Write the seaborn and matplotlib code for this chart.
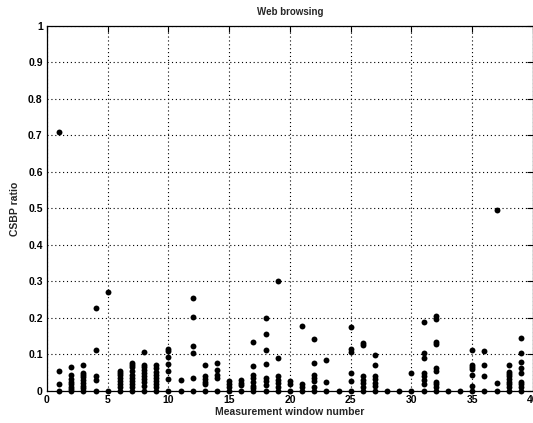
import numpy as np
import pandas as pd
import matplotlib
matplotlib.use('Agg')
import matplotlib.pyplot as plt
import seaborn as sns

windows = list(range(1, 40))
ratios = [
    [0.71, 0.056, 0.018, 0.0],                                            # 1
    [0.065, 0.045, 0.032, 0.025, 0.018, 0.012, 0.006, 0.0],               # 2
    [0.072, 0.05, 0.045, 0.038, 0.03, 0.022, 0.015, 0.008, 0.0],          # 3
    [0.228, 0.113, 0.04, 0.03, 0.0],                                      # 4
    [0.272, 0.0],                                                         # 5
    [0.055, 0.05, 0.043, 0.035, 0.028, 0.02, 0.012, 0.0],                 # 6
    [0.078, 0.072, 0.065, 0.055, 0.045, 0.035, 0.028, 0.02, 0.01, 0.0],   # 7
    [0.106, 0.072, 0.065, 0.058, 0.05, 0.04, 0.032, 0.025, 0.015, 0.0],   # 8
    [0.07, 0.062, 0.052, 0.045, 0.035, 0.028, 0.02, 0.01, 0.0],           # 9
    [0.115, 0.11, 0.092, 0.074, 0.055, 0.033, 0.0],                       # 10
    [0.03, 0.0],                                                          # 11
    [0.254, 0.204, 0.123, 0.103, 0.035, 0.0],                             # 12
    [0.071, 0.041, 0.032, 0.025, 0.02, 0.0],                              # 13
    [0.078, 0.057, 0.045, 0.035, 0.0],                                    # 14
    [0.027, 0.02, 0.012, 0.0],                                            # 15
    [0.03, 0.022, 0.016, 0.0],                                            # 16
    [0.135, 0.068, 0.045, 0.035, 0.025, 0.015, 0.008, 0.0],               # 17
    [0.2, 0.156, 0.112, 0.073, 0.035, 0.026, 0.016, 0.0],                 # 18
    [0.3, 0.09, 0.04, 0.03, 0.022, 0.012, 0.0],                           # 19
    [0.027, 0.02, 0.0],                                                   # 20
    [0.178, 0.02, 0.012, 0.0],                                            # 21
    [0.142, 0.076, 0.045, 0.035, 0.027, 0.012, 0.0],                      # 22
    [0.085, 0.025, 0.0],                                                  # 23
    [0.0],                                                                # 24
    [0.174, 0.114, 0.108, 0.049, 0.028, 0.0],                             # 25
    [0.132, 0.125, 0.04, 0.03, 0.022, 0.012, 0.0],                        # 26
    [0.098, 0.071, 0.04, 0.032, 0.022, 0.014, 0.0],                       # 27
    [0.0],                                                                # 28
    [0.0],                                                                # 29
    [0.05, 0.0],                                                          # 30
    [0.19, 0.105, 0.09, 0.05, 0.04, 0.03, 0.02, 0.0],                     # 31
    [0.205, 0.197, 0.135, 0.128, 0.062, 0.055, 0.025, 0.018, 0.01, 0.0],  # 32
    [0.0],                                                                # 33
    [0.0],                                                                # 34
    [0.112, 0.072, 0.066, 0.06, 0.044, 0.014, 0.0],                       # 35
    [0.11, 0.071, 0.04, 0.0],                                             # 36
    [0.495, 0.023, 0.0],                                                  # 37
    [0.072, 0.053, 0.046, 0.04, 0.032, 0.025, 0.018, 0.012, 0.0],         # 38
    [0.145, 0.104, 0.08, 0.062, 0.048, 0.025, 0.019, 0.012, 0.0],         # 39
]

df = pd.DataFrame([(w, r) for w, rs in zip(windows, ratios) for r in rs],
                  columns=['window', 'ratio'])

sns.set_style('white')
plt.rcParams['font.family'] = ['Liberation Sans', 'DejaVu Sans']
plt.rcParams['font.weight'] = 'bold'

fig = plt.figure(figsize=(5.33, 4.23), dpi=100)
ax = fig.add_axes([0.088, 0.0757, 0.912, 0.863])

sns.scatterplot(data=df, x='window', y='ratio', ax=ax, color='black',
                s=18, linewidth=0, marker='o', clip_on=False, zorder=3)

ax.set_xlim(0, 40)
ax.set_ylim(0, 1)
ax.set_xticks(np.arange(0, 41, 5))
ax.set_yticks(np.arange(0, 1.01, 0.1))
ax.set_yticklabels(['0', '0.1', '0.2', '0.3', '0.4', '0.5', '0.6', '0.7', '0.8', '0.9', '1'])
ax.tick_params(direction='in', length=4, width=0.8, labelsize=7.5, pad=3,
               top=True, right=True, colors='black')
for lab in ax.get_xticklabels() + ax.get_yticklabels():
    lab.set_fontweight('bold')

ax.grid(True, linestyle=(0, (1, 2.5)), color='black', linewidth=0.8)
for sp in ax.spines.values():
    sp.set_color('black')
    sp.set_linewidth(0.9)
    sp.set_visible(True)

ax.set_title('Web browsing', fontsize=7, fontweight='bold', pad=8)
ax.set_xlabel('Measurement window number', fontsize=7.5, fontweight='bold', labelpad=1)
ax.set_ylabel('CSBP ratio', fontsize=7.5, fontweight='bold', labelpad=6)

fig.savefig('out.png', dpi=100)
